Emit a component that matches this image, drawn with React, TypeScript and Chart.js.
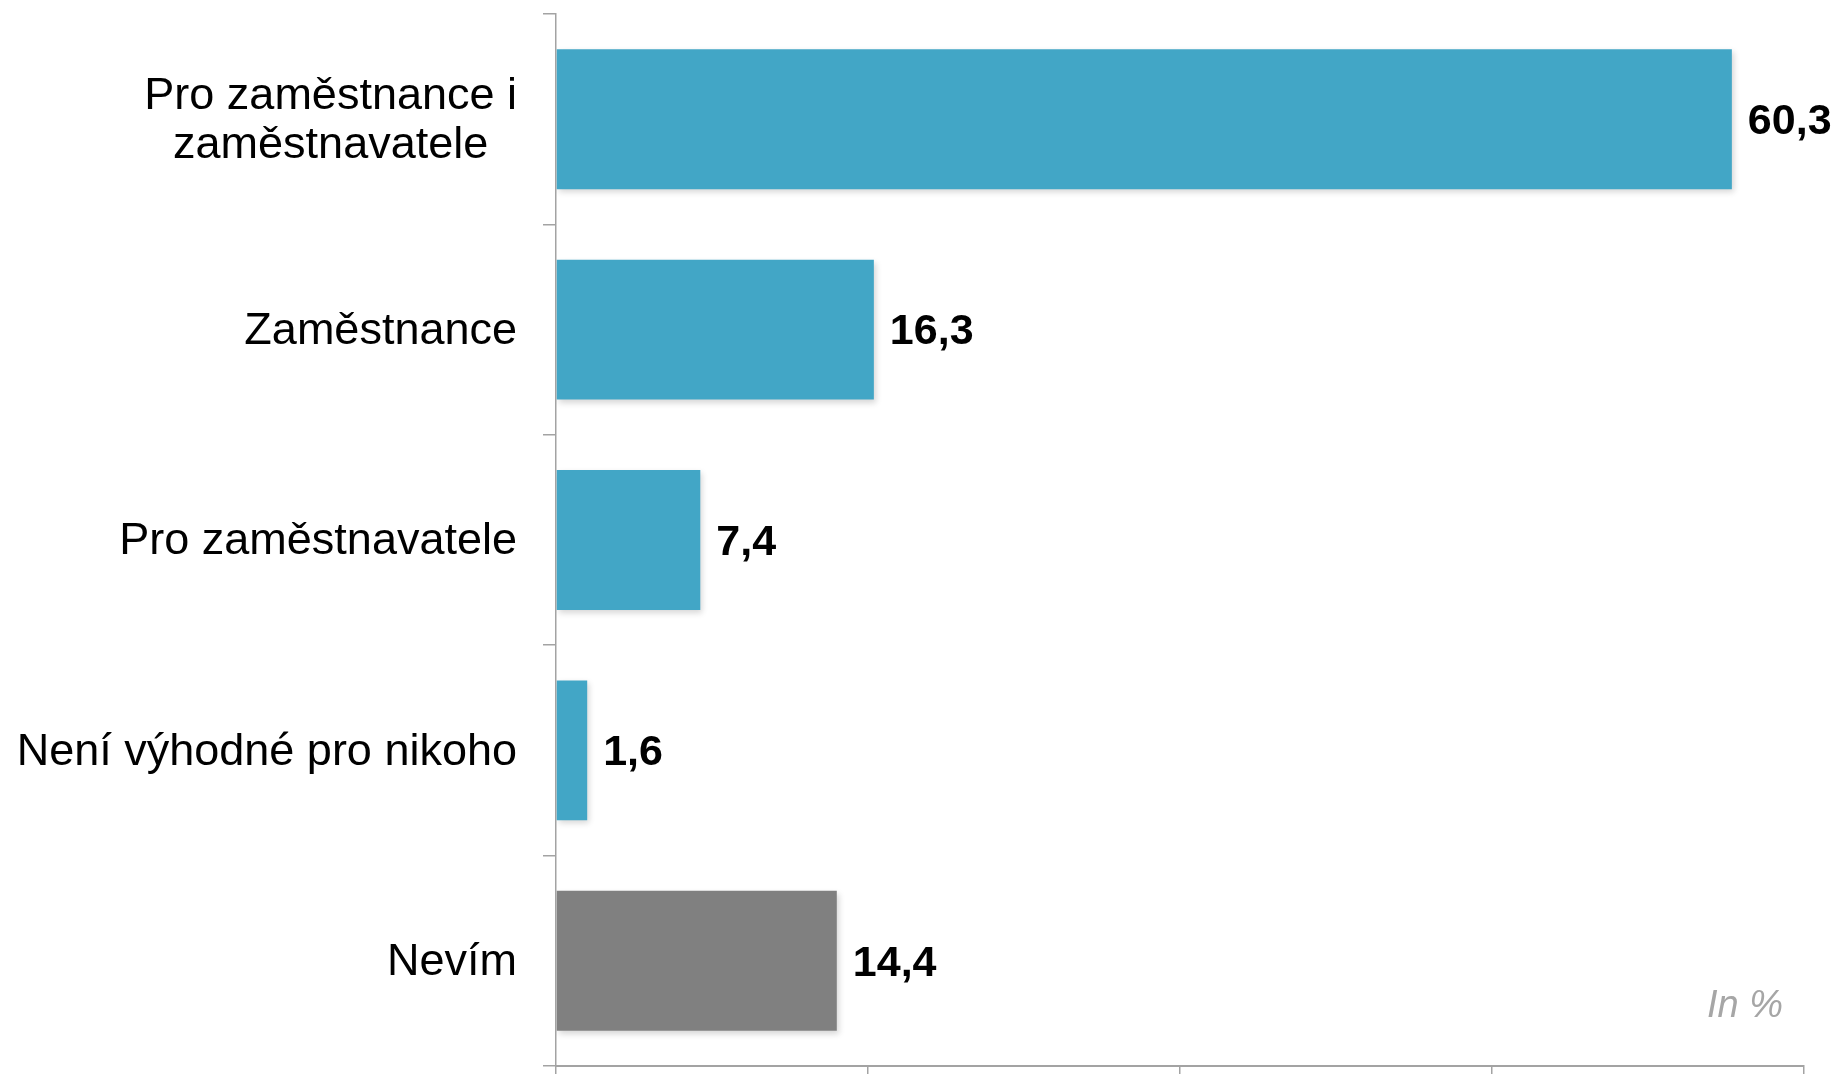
import React, { useEffect, useRef } from "react";
import { Chart, registerables } from "chart.js";

Chart.register(...registerables);

// ---- data ----
const categories: string[][] = [
  ["Pro zaměstnance i", "zaměstnavatele"],
  ["Zaměstnance"],
  ["Pro zaměstnavatele"],
  ["Není výhodné pro nikoho"],
  ["Nevím"],
];
const values: number[] = [60.3, 16.3, 7.4, 1.6, 14.4];
const barColors: string[] = ["#42A6C6", "#42A6C6", "#42A6C6", "#42A6C6", "#808080"];
const xTickValues: number[] = [0, 16, 32, 48, 64];
const unitNote = "In %";

const FONT = '"Liberation Sans", Arial, Helvetica, sans-serif';
const AXIS_COLOR = "#a3a3a3";

const formatValue = (v: number) => v.toFixed(1).replace(".", ",");

const customPlugin = {
  id: "customLabels",
  beforeDatasetsDraw(chart: any) {
    const ctx = chart.ctx;
    ctx.save();
    ctx.shadowColor = "rgba(0,0,0,0.16)";
    ctx.shadowBlur = 6;
    ctx.shadowOffsetX = 2;
    ctx.shadowOffsetY = 3;
  },
  afterDatasetsDraw(chart: any) {
    const ctx = chart.ctx;
    ctx.restore();
    const meta = chart.getDatasetMeta(0);
    const yScale = chart.scales.y;

    // value labels
    ctx.save();
    ctx.fillStyle = "#000";
    ctx.font = `bold 43px ${FONT}`;
    ctx.textAlign = "left";
    ctx.textBaseline = "middle";
    meta.data.forEach((bar: any, i: number) => {
      ctx.fillText(formatValue(values[i]), bar.x + 16, bar.y + 3);
    });
    ctx.restore();

    // category labels
    ctx.save();
    ctx.fillStyle = "#000";
    ctx.font = `45px ${FONT}`;
    ctx.textBaseline = "middle";
    const rightX = yScale.right - 39;
    const lineH = 49;
    categories.forEach((lines, i) => {
      const cy = yScale.getPixelForTick(i) + 2;
      const widths = lines.map((l) => ctx.measureText(l).width);
      const maxW = Math.max(...widths);
      const startY = cy - ((lines.length - 1) * lineH) / 2;
      lines.forEach((l, j) => {
        ctx.textAlign = "center";
        ctx.fillText(l, rightX - maxW / 2, startY + j * lineH);
      });
    });
    ctx.restore();

    // unit note
    ctx.save();
    ctx.fillStyle = "#a6a6a6";
    ctx.font = `italic 38px ${FONT}`;
    ctx.textAlign = "right";
    ctx.textBaseline = "alphabetic";
    ctx.fillText(unitNote, chart.chartArea.right - 21, chart.chartArea.bottom - 49);
    ctx.restore();
  },
};

export default function App() {
  const ref = useRef<HTMLCanvasElement | null>(null);

  useEffect(() => {
    if (!ref.current) return;
    const chart = new Chart(ref.current, {
      type: "bar",
      data: {
        labels: categories.map((c) => c.join(" ")),
        datasets: [
          {
            data: values,
            backgroundColor: barColors,
            borderWidth: 0,
            categoryPercentage: 1,
            barPercentage: 0.665,
          },
        ],
      },
      options: {
        indexAxis: "y",
        responsive: false,
        animation: false,
        devicePixelRatio: 1,
        layout: { padding: { top: 14, right: 33, left: 0, bottom: 0 } },
        plugins: {
          legend: { display: false },
          tooltip: { enabled: false },
          title: { display: false },
        },
        scales: {
          x: {
            type: "linear",
            min: 0,
            max: 64,
            afterBuildTicks: (s: any) => {
              s.ticks = xTickValues.map((v) => ({ value: v }));
            },
            afterFit: (s: any) => {
              s.height = 8;
            },
            ticks: { display: false },
            grid: {
              display: true,
              drawOnChartArea: false,
              drawTicks: true,
              tickLength: 12,
              color: AXIS_COLOR,
              lineWidth: 1.5,
            },
            border: { display: true, color: AXIS_COLOR, width: 2 },
          },
          y: {
            type: "category",
            afterFit: (s: any) => {
              s.width = 556;
            },
            ticks: { display: false },
            grid: {
              display: true,
              offset: true,
              drawOnChartArea: false,
              drawTicks: true,
              tickLength: 13,
              color: AXIS_COLOR,
              lineWidth: 1.5,
            },
            border: { display: true, color: AXIS_COLOR, width: 1.5 },
          },
        },
      } as any,
      plugins: [customPlugin],
    });
    return () => chart.destroy();
  }, []);

  return (
    <div style={{ position: "fixed", left: 0, top: 0, width: 1837, height: 1074, background: "#fff" }}>
      <canvas ref={ref} width={1837} height={1074} style={{ display: "block", width: 1837, height: 1074 }} />
    </div>
  );
}
